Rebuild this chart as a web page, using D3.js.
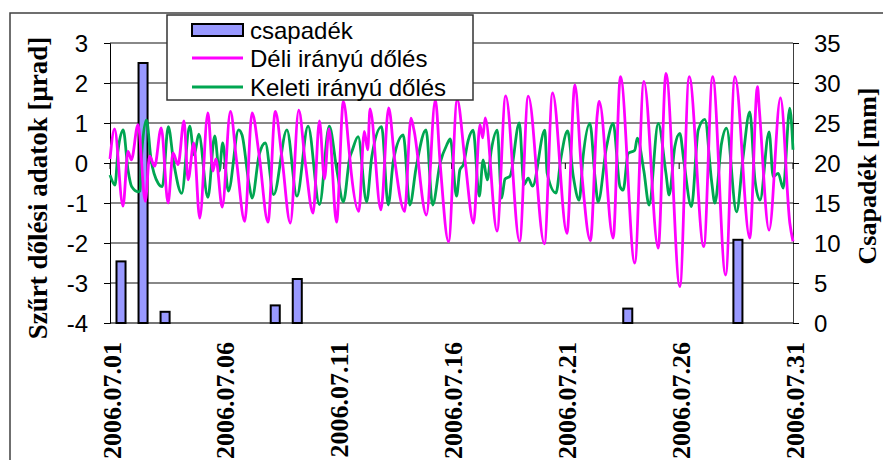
<!DOCTYPE html>
<meta charset="utf-8">
<script src="https://d3js.org/d3.v7.min.js"></script>
<style>
  body { margin: 0; background: #fff; }
  text.sans { font-family: "Liberation Sans", Arial, sans-serif; }
  text.serif { font-family: "Liberation Serif", "Times New Roman", serif; font-weight: bold; }
</style>
<div id="graph"></div>

<script>

// daily rain (mm), one bar per day of july
var rainDays = d3.range(1, 32);
var rainValues = [7.7, 32.5, 1.4, 0, 0, 0, 0, 2.2, 5.5, 0, 0, 0, 0, 0, 0, 0,
                  0, 0, 0, 0, 0, 0, 0, 1.8, 0, 0, 0, 0, 10.4, 0, 0];

// filtered tilt, south direction (days since 07.01 00:00, urad)
var delDays = [0,0.2,0.57,0.79,0.94,1.23,1.55,1.74,1.96,2.25,
  2.55,2.77,2.99,3.25,3.43,3.68,3.94,4.3,4.52,4.65,
  4.93,5.29,5.55,5.92,6.24,6.55,6.94,7.26,7.55,7.92,
  8.29,8.58,8.92,9.2,9.42,9.62,9.95,10.25,10.5,10.6,
  10.93,11.17,11.32,11.42,11.9,12.24,12.5,12.94,13.22,13.35,
  13.9,14.29,14.5,14.87,15.25,15.59,15.97,16.25,16.37,16.48,
  17.0,17.38,17.99,18.37,19.08,19.44,20.07,20.42,20.71,21.1,
  21.4,21.49,22.1,22.42,23.05,23.45,24.08,24.42,25.03,25.44,
  26.08,26.47,27.04,27.45,28.1,28.44,28.52,28.95,29.45,29.86,
  30];
var delValues = [0.1,0.85,-1.08,0.29,0.08,0.96,-0.96,0.17,-0.08,0.88,
  -1.0,0.25,-0.04,1.05,-0.42,0.5,-1.38,1.25,-0.2,0.1,
  -1.1,1.29,0.1,-1.46,1.25,0.2,-1.48,1.29,0.15,-1.5,
  1.32,0.0,-1.25,1.05,-0.4,0.85,-1.48,1.54,0.33,-0.26,
  -1.21,0.79,0.33,1.35,-1.17,1.38,0.1,-1.21,1.12,0.83,
  -1.3,1.58,0.0,-1.97,1.58,0.08,-1.5,0.96,0.63,1.13,
  -1.7,1.68,-1.96,1.67,-2.02,1.75,-1.76,1.95,-0.18,-1.94,
  1.2,1.54,-1.88,2.16,-2.5,2.04,-2.13,2.24,-3.09,2.16,
  -2.09,2.16,-2.8,2.16,-1.88,1.91,1.35,-1.68,1.63,-1.5,
  -1.96];

// filtered tilt, east direction
var kelDays = [0,0.22,0.35,0.58,0.79,0.95,1.24,1.32,1.4,1.6,
  1.8,2.12,2.3,2.56,2.8,3.15,3.5,3.7,3.9,4.3,
  4.6,4.8,4.95,5.2,5.65,5.8,6.1,6.24,6.55,6.82,
  7.19,7.77,8.21,8.7,9.2,9.63,9.97,10.25,10.54,10.62,
  10.9,11.27,11.5,11.93,12.22,12.45,12.88,13.17,13.45,13.88,
  14.17,14.5,14.79,14.95,15.22,15.37,15.52,15.74,15.95,16.22,
  16.39,16.57,16.75,17.01,17.2,17.35,17.57,17.98,18.18,18.37,
  18.56,19.1,19.2,19.59,19.8,20.1,20.35,20.61,20.78,21.08,
  21.3,21.44,21.81,22.1,22.4,22.54,22.76,23.05,23.16,23.45,
  23.68,24.08,24.42,24.56,24.81,25.03,25.2,25.54,25.84,26.13,
  26.42,26.57,26.86,27.08,27.52,27.81,28.1,28.33,28.55,28.95,
  29.13,29.35,29.57,29.86,30];
var kelValues = [-0.3,-0.55,0.3,0.83,-0.17,-0.59,-0.72,-0.7,0.3,1.08,
  0.1,-0.51,-0.59,0.91,0.0,-0.76,0.92,0.2,0.72,-0.86,
  0.68,-0.2,0.5,-0.7,0.83,0.7,-0.5,-0.88,0.2,0.5,
  -0.79,0.83,-0.83,0.92,-1.04,0.92,-0.2,-0.97,0.16,0.28,
  0.66,-0.97,0.16,0.91,-1.05,0.07,0.7,-1.05,-0.1,0.83,
  -1.05,0.0,0.45,0.6,-0.83,-0.17,-0.04,0.58,0.82,-0.83,
  0.08,-0.42,0.33,0.82,-0.88,-0.4,-0.33,1.0,-0.54,-0.38,
  -0.58,0.82,-0.25,-0.75,0.1,0.8,-0.34,-0.93,0.16,0.99,
  -0.34,-0.97,0.41,0.99,-0.59,-0.68,0.24,0.32,0.62,-0.2,
  -1.05,0.99,-0.26,-0.8,0.41,0.74,0.07,-1.09,0.83,1.09,
  -0.43,-1.0,0.49,0.87,-1.22,0.16,1.28,-0.43,-0.93,0.78,
  -0.34,-0.26,-0.63,1.37,0.33];

// ticks
var leftTicks = [3, 2, 1, 0, -1, -2, -3, -4];
var rightTicks = [0, 5, 10, 15, 20, 25, 30, 35];
var dateTicks = [1, 6, 11, 16, 21, 26, 31];
var dateLabels = ["2006.07.01", "2006.07.06", "2006.07.11", "2006.07.16",
                  "2006.07.21", "2006.07.26", "2006.07.31"];

var margin = {top: 43, left: 110},
    width = 683,
    height = 280;

var root = d3.select("#graph")
    .append("svg")
    .attr("width", 883)
    .attr("height", 460);

// outer frame of the chart (runs off the picture right & bottom)
root.append("rect").attr("x", 10).attr("y", 13).attr("width", 900).attr("height", 500)
    .attr("fill", "none").attr("stroke", "#404040").attr("stroke-width", 1.5);

var svg = root.append("g")
    .attr("transform", `translate(${margin.left}, ${margin.top})`);

// scales
var y = d3.scaleLinear().domain([-4, 3]).range([height, 0]);
var y2 = d3.scaleLinear().domain([0, 35]).range([height, 0]);
var x = d3.scaleLinear().domain([1, 31]).range([0, width]);   // day of month for the lines
var xb = d3.scaleBand().domain(rainDays).range([0, width])
    .paddingInner(0.59).paddingOuter(0.295);

// grid lines
svg.append("g")
    .selectAll("line")
    .data(leftTicks)
    .join("line")
    .attr("x1", 0).attr("x2", width)
    .attr("y1", d => y(d)).attr("y2", d => y(d))
    .attr("stroke", "#606060").attr("stroke-width", 1.3);

// bottom (category) axis line
svg.append("line").attr("x1", 0).attr("x2", width).attr("y1", height).attr("y2", height)
    .attr("stroke", "#707070").attr("stroke-width", 1.5);

// left axis -- plain hyphen minus like the original
svg.append("g")
    .call(d3.axisLeft(y).tickValues(leftTicks).tickSize(6).tickFormat(d => String(d)))
    .call(g => g.select(".domain").attr("stroke", "#000"))
    .call(g => g.selectAll("text").attr("font-size", 24)
        .attr("fill", "#000").attr("x", -22).attr("dy", "0.35em").style("font-family", "Liberation Sans, Arial, sans-serif"));

// right axis
svg.append("g")
    .attr("transform", `translate(${width}, 0)`)
    .call(d3.axisRight(y2).tickValues(rightTicks).tickSize(6))
    .call(g => g.select(".domain").attr("stroke", "#404040"))
    .call(g => g.selectAll("text").attr("font-size", 24).attr("fill", "#000")
        .attr("x", 21).attr("dy", "0.35em").style("font-family", "Liberation Sans, Arial, sans-serif"));

// date ticks sit on the zero line
svg.append("g")
    .selectAll("line")
    .data(dateTicks)
    .join("line")
    .attr("x1", d => x(d)).attr("x2", d => x(d))
    .attr("y1", y(0)).attr("y2", y(0) + 6)
    .attr("stroke", "#000");

// date labels, rotated, down at the bottom
svg.append("g")
    .selectAll("text")
    .data(dateTicks)
    .join("text")
    .attr("class", "serif")
    .attr("transform", d => `translate(${x(d) + 2}, ${height + 19}) rotate(-90)`)
    .attr("text-anchor", "end")
    .attr("dominant-baseline", "central")
    .style("font-size", "26px")
    .text((d, i) => dateLabels[i]);

// rain bars
svg.append("g")
    .selectAll("rect")
    .data(rainDays.map((d, i) => ({day: d, mm: rainValues[i]})).filter(d => d.mm > 0))
    .join("rect")
    .attr("x", d => xb(d.day))
    .attr("y", d => y2(d.mm))
    .attr("width", xb.bandwidth())
    .attr("height", d => height - y2(d.mm))
    .attr("fill", "#9999ff")
    .attr("stroke", "#000")
    .attr("stroke-width", 2);

// the two tilt lines
var line = d3.line()
    .x(d => x(1 + d[0]))
    .y(d => y(d[1]))
    .curve(d3.curveMonotoneX);

svg.append("path")
    .datum(d3.zip(kelDays, kelValues))
    .attr("fill", "none")
    .attr("stroke", "#00a651")
    .attr("stroke-width", 2.8)
    .attr("d", line);

svg.append("path")
    .datum(d3.zip(delDays, delValues))
    .attr("fill", "none")
    .attr("stroke", "#ff00ff")
    .attr("stroke-width", 2.8)
    .attr("d", line);

// axis titles
root.append("text").attr("class", "serif")
    .attr("transform", "translate(38, 188) rotate(-90)")
    .attr("text-anchor", "middle").attr("dominant-baseline", "central")
    .style("font-size", "27px")
    .text("Szűrt dőlési adatok [μrad]");

root.append("text").attr("class", "serif")
    .attr("transform", "translate(867, 176) rotate(-90)")
    .attr("text-anchor", "middle").attr("dominant-baseline", "central")
    .style("font-size", "26px")
    .text("Csapadék [mm]");

// legend
var lg = root.append("g");
lg.append("rect").attr("x", 167).attr("y", 15).attr("width", 306).attr("height", 85)
    .attr("fill", "#fff").attr("stroke", "#333").attr("stroke-width", 1.5);

lg.append("rect").attr("x", 192).attr("y", 24).attr("width", 51).attr("height", 12)
    .attr("fill", "#9999ff").attr("stroke", "#000").attr("stroke-width", 2);
lg.append("text").attr("class", "sans").attr("x", 250).attr("y", 30).attr("dominant-baseline", "central")
    .style("font-size", "24px").text("csapadék");

lg.append("line").attr("x1", 192).attr("x2", 243).attr("y1", 58).attr("y2", 58)
    .attr("stroke", "#ff00ff").attr("stroke-width", 2.8);
lg.append("text").attr("class", "sans").attr("x", 250).attr("y", 58).attr("dominant-baseline", "central")
    .style("font-size", "24px").text("Déli irányú dőlés");

lg.append("line").attr("x1", 192).attr("x2", 243).attr("y1", 87).attr("y2", 87)
    .attr("stroke", "#00a651").attr("stroke-width", 2.8);
lg.append("text").attr("class", "sans").attr("x", 250).attr("y", 87).attr("dominant-baseline", "central")
    .style("font-size", "24px").text("Keleti irányú dőlés");

</script>
